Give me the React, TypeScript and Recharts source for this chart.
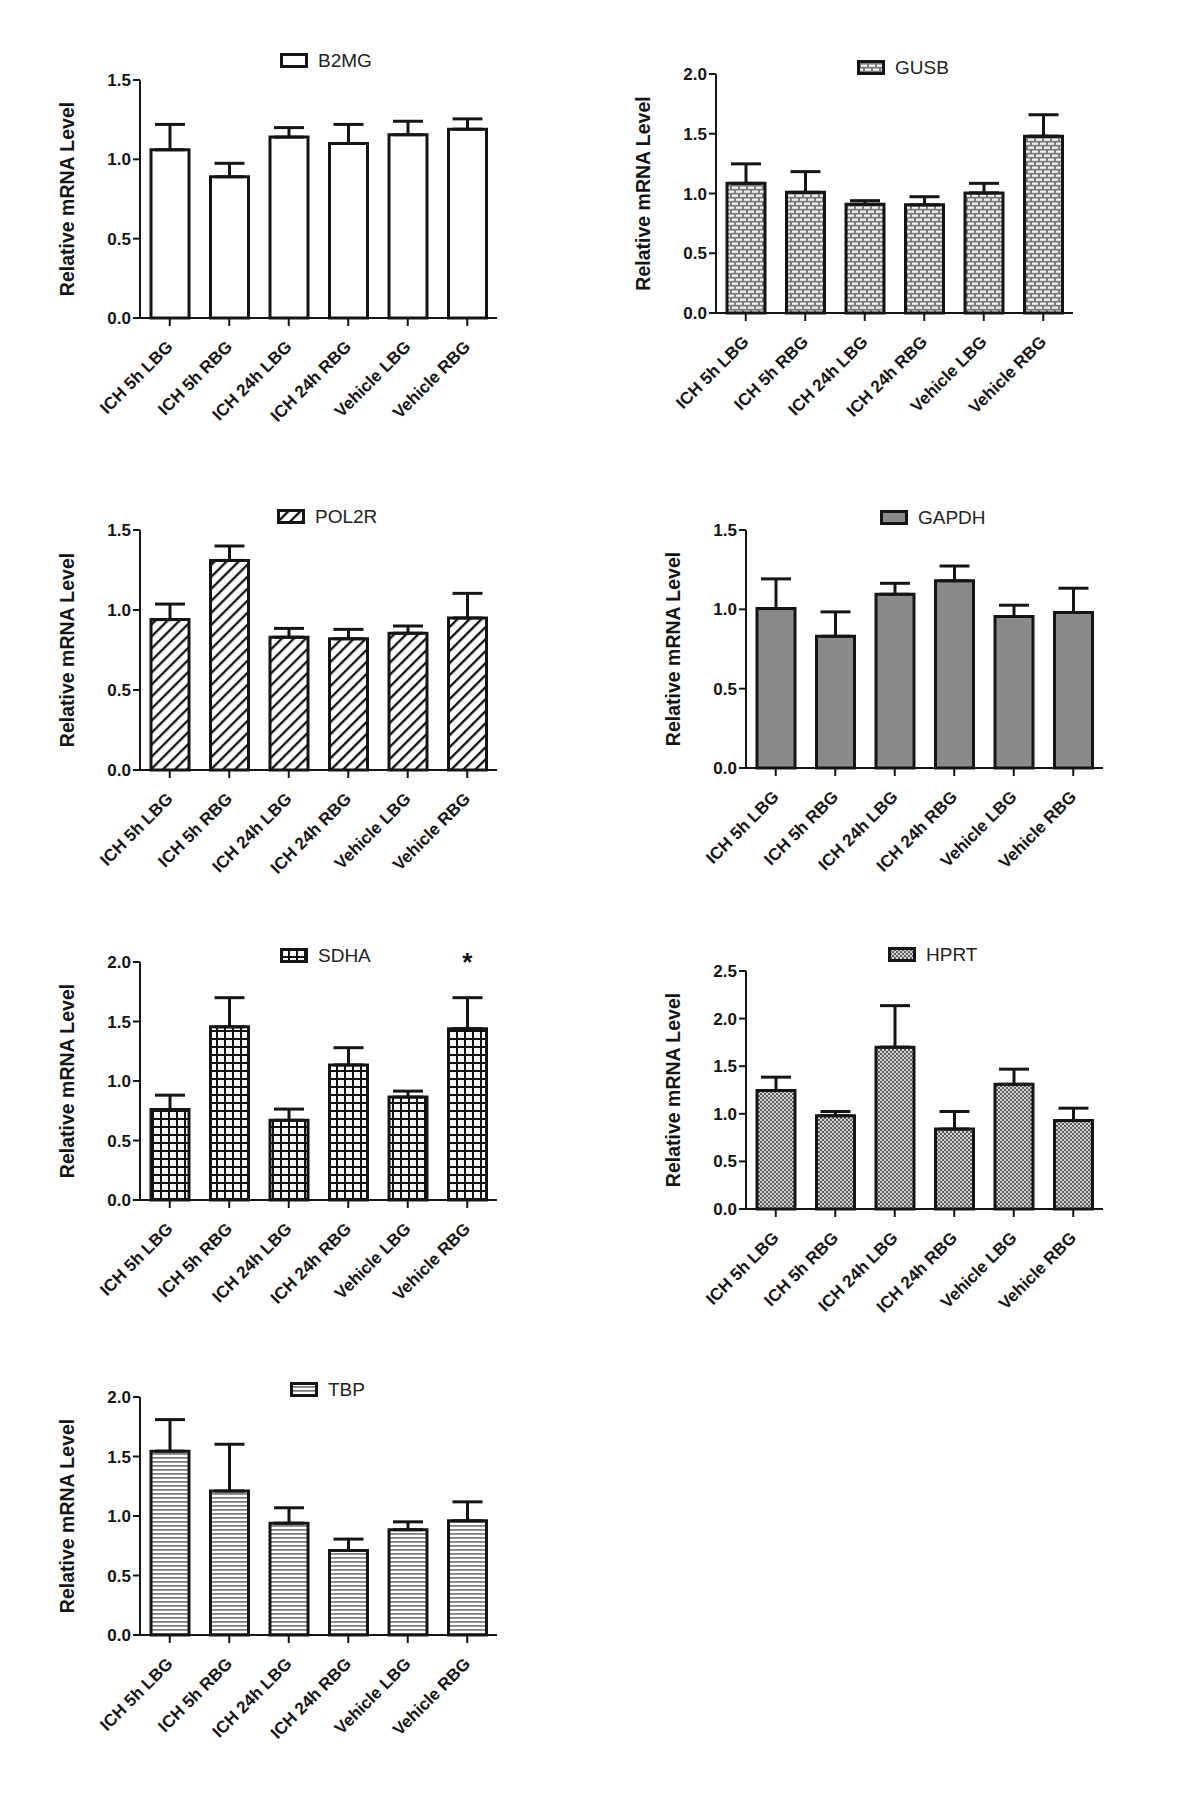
import { BarChart, Bar, XAxis, YAxis, ErrorBar, Legend, ReferenceDot } from 'recharts'

const FONT = '"Liberation Sans", Arial, Helvetica, sans-serif'
const INK = '#151515'

const groups = ['ICH 5h LBG', 'ICH 5h RBG', 'ICH 24h LBG', 'ICH 24h RBG', 'Vehicle LBG', 'Vehicle RBG']

// mean and upper SEM for each reference gene
const b2mgMean = [1.06, 0.89, 1.14, 1.1, 1.155, 1.19]
const b2mgErr = [0.16, 0.085, 0.06, 0.12, 0.085, 0.065]

const gusbMean = [1.085, 1.01, 0.91, 0.905, 1.005, 1.48]
const gusbErr = [0.163, 0.173, 0.03, 0.068, 0.08, 0.179]

const pol2rMean = [0.94, 1.31, 0.83, 0.82, 0.855, 0.95]
const pol2rErr = [0.097, 0.09, 0.055, 0.059, 0.045, 0.154]

const gapdhMean = [1.005, 0.83, 1.095, 1.18, 0.955, 0.98]
const gapdhErr = [0.187, 0.154, 0.069, 0.093, 0.071, 0.153]

const sdhaMean = [0.76, 1.455, 0.67, 1.135, 0.865, 1.44]
const sdhaErr = [0.121, 0.245, 0.094, 0.145, 0.05, 0.26]
const sdhaMarks = ['', '', '', '', '', '*']

const hprtMean = [1.245, 0.98, 1.7, 0.84, 1.31, 0.93]
const hprtErr = [0.14, 0.044, 0.436, 0.184, 0.159, 0.129]

const tbpMean = [1.545, 1.21, 0.94, 0.71, 0.885, 0.96]
const tbpErr = [0.265, 0.393, 0.129, 0.096, 0.066, 0.159]

const ticks15 = [0, 0.5, 1, 1.5]
const ticks20 = [0, 0.5, 1, 1.5, 2]
const ticks25 = [0, 0.5, 1, 1.5, 2, 2.5]

const PLOT_W = 357
const LEFT_W = 100
const TOP_M = 60
const BOTTOM_H = 130

type Panel = {
  name: string
  mean: number[]
  err: number[]
  marks?: string[]
  ticks: number[]
  fill: string
  axisX: number
  plotTop: number
  plotH: number
  legendX: number
  legendY: number
}

const panels: Panel[] = [
  { name: 'B2MG', mean: b2mgMean, err: b2mgErr, ticks: ticks15, fill: '#ffffff', axisX: 140, plotTop: 80, plotH: 238, legendX: 280, legendY: 53 },
  { name: 'GUSB', mean: gusbMean, err: gusbErr, ticks: ticks20, fill: 'url(#pat-brick)', axisX: 716, plotTop: 74, plotH: 239, legendX: 857, legendY: 60 },
  { name: 'POL2R', mean: pol2rMean, err: pol2rErr, ticks: ticks15, fill: 'url(#pat-diag)', axisX: 140, plotTop: 530, plotH: 240, legendX: 277, legendY: 509 },
  { name: 'GAPDH', mean: gapdhMean, err: gapdhErr, ticks: ticks15, fill: '#8a8a8a', axisX: 746, plotTop: 530, plotH: 238, legendX: 880, legendY: 510 },
  { name: 'SDHA', mean: sdhaMean, err: sdhaErr, marks: sdhaMarks, ticks: ticks20, fill: 'url(#pat-grid)', axisX: 140, plotTop: 962, plotH: 238, legendX: 280, legendY: 948 },
  { name: 'HPRT', mean: hprtMean, err: hprtErr, ticks: ticks25, fill: 'url(#pat-check)', axisX: 746, plotTop: 971, plotH: 238, legendX: 888, legendY: 947 },
  { name: 'TBP', mean: tbpMean, err: tbpErr, ticks: ticks20, fill: 'url(#pat-hline)', axisX: 140, plotTop: 1397, plotH: 238, legendX: 290, legendY: 1382 },
]

function Patterns() {
  return (
    <svg width={0} height={0} style={{ position: 'absolute' }}>
      <defs>
        <pattern id="pat-brick" patternUnits="userSpaceOnUse" width={8} height={8}>
          <rect width={8} height={8} fill="#7c7c7c" />
          <rect x={0} y={0.6} width={6} height={2.2} fill="#f4f4f4" />
          <rect x={4} y={4.6} width={4} height={2.2} fill="#f4f4f4" />
          <rect x={0} y={4.6} width={2} height={2.2} fill="#f4f4f4" />
        </pattern>
        <pattern id="pat-diag" patternUnits="userSpaceOnUse" width={8.5} height={8.5} patternTransform="rotate(45)">
          <rect width={8.5} height={8.5} fill="#ffffff" />
          <rect x={0} y={0} width={2.3} height={8.5} fill="#111111" />
        </pattern>
        <pattern id="pat-grid" patternUnits="userSpaceOnUse" width={8} height={8}>
          <rect width={8} height={8} fill="#ffffff" />
          <rect x={0} y={0} width={8} height={2} fill="#111111" />
          <rect x={0} y={0} width={2} height={8} fill="#111111" />
        </pattern>
        <pattern id="pat-check" patternUnits="userSpaceOnUse" width={4} height={4}>
          <rect width={4} height={4} fill="#d4d4d4" />
          <rect x={0} y={0} width={2} height={2} fill="#5e5e5e" />
          <rect x={2} y={2} width={2} height={2} fill="#5e5e5e" />
        </pattern>
        <pattern id="pat-hline" patternUnits="userSpaceOnUse" width={4} height={4}>
          <rect width={4} height={4} fill="#ffffff" />
          <rect x={0} y={0} width={4} height={1.8} fill="#808080" />
        </pattern>
      </defs>
    </svg>
  )
}

function XTick(props: any) {
  const { x, y, payload } = props
  return (
    <g transform={`translate(${x + 4},${y + 20})`}>
      <text
        textAnchor="end"
        transform="rotate(-45)"
        fontSize={17}
        fontWeight="bold"
        fontFamily={FONT}
        fill={INK}
      >
        {payload.value}
      </text>
    </g>
  )
}

function YTitle(props: any) {
  const vb = props.viewBox ?? { x: 0, y: 0, width: 0, height: 0 }
  const cx = vb.x + 27
  const cy = vb.y + vb.height / 2
  return (
    <text
      x={cx}
      y={cy}
      transform={`rotate(-90, ${cx}, ${cy})`}
      textAnchor="middle"
      dominantBaseline="central"
      fontSize={19.5}
      fontWeight="bold"
      fontFamily={FONT}
      fill={INK}
    >
      Relative mRNA Level
    </text>
  )
}

function Swatch({ name, fill }: { name: string; fill: string }) {
  return (
    <svg width={120} height={16} style={{ display: 'block', overflow: 'visible' }}>
      <rect x={1.5} y={1.5} width={25} height={12} fill={fill} stroke={INK} strokeWidth={3} />
      <text x={38} y={7.5} dominantBaseline="central" fontSize={19} fontFamily={FONT} fill="#222">
        {name}
      </text>
    </svg>
  )
}

function GenePanel({ p }: { p: Panel }) {
  const data = groups.map((g, i) => ({
    group: g,
    mean: p.mean[i],
    err: [0, p.err[i]],
  }))
  const left = p.axisX - LEFT_W
  const top = p.plotTop - TOP_M
  const width = LEFT_W + PLOT_W + 20
  const height = TOP_M + p.plotH + BOTTOM_H
  const yMax = p.ticks[p.ticks.length - 1]

  return (
    <div style={{ position: 'absolute', left, top, width, height }}>
      <BarChart width={width} height={height} data={data} margin={{ top: TOP_M, right: 20, bottom: 0, left: 0 }}>
        <XAxis
          dataKey="group"
          height={BOTTOM_H}
          interval={0}
          tick={<XTick />}
          tickSize={8}
          axisLine={{ stroke: INK, strokeWidth: 2 }}
          tickLine={{ stroke: INK, strokeWidth: 2 }}
        />
        <YAxis
          width={LEFT_W}
          domain={[0, yMax]}
          ticks={p.ticks}
          interval={0}
          tickFormatter={(v: number) => v.toFixed(1)}
          tickSize={7}
          tick={{ fontSize: 17, fontWeight: 'bold', fill: INK, fontFamily: FONT }}
          axisLine={{ stroke: INK, strokeWidth: 2 }}
          tickLine={{ stroke: INK, strokeWidth: 2 }}
          label={<YTitle />}
        />
        <Legend
          layout="horizontal"
          verticalAlign="middle"
          align="center"
          wrapperStyle={{ left: p.legendX - left, top: p.legendY - top, width: 140 }}
          content={() => <Swatch name={p.name} fill={p.fill} />}
        />
        <Bar dataKey="mean" fill={p.fill} stroke={INK} strokeWidth={3} barSize={38} isAnimationActive={false}>
          <ErrorBar dataKey="err" direction="y" width={15} stroke={INK} strokeWidth={3} />
        </Bar>
        {(p.marks ?? []).map((m, i) =>
          m ? (
            <ReferenceDot
              key={i}
              x={groups[i]}
              y={yMax}
              r={1}
              fill="none"
              stroke="none"
              label={{ value: m, position: 'center', fontSize: 26, fontWeight: 'bold', fill: INK, fontFamily: FONT }}
            />
          ) : null,
        )}
      </BarChart>
    </div>
  )
}

export default function App() {
  return (
    <div style={{ position: 'absolute', left: 0, top: 0, width: 1200, height: 1803, background: '#fff' }}>
      <Patterns />
      {panels.map((p) => (
        <GenePanel key={p.name} p={p} />
      ))}
    </div>
  )
}
